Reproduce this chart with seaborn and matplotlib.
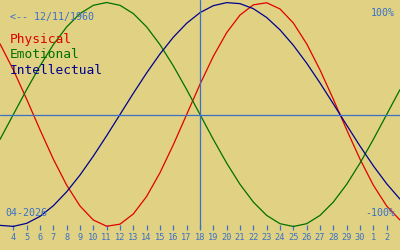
import matplotlib
matplotlib.use("Agg")
import matplotlib.pyplot as plt
import seaborn as sns
import pandas as pd

# Days shown: April 3 .. May 3, 2026 (day numbers continue past 30 for May)
days = list(range(3, 34))
physical = [0.6311, 0.3984, 0.1362, -0.1362, -0.3984, -0.6311, -0.8170, -0.9423, -0.9977, -0.9791,
            -0.8879, -0.7308, -0.5196, -0.2698, 0.0, 0.2698, 0.5196, 0.7308, 0.8879, 0.9791,
            0.9977, 0.9423, 0.8170, 0.6311, 0.3984, 0.1362, -0.1362, -0.3984, -0.6311, -0.8170, -0.9423]
emotional = [-0.2225, 0.0, 0.2225, 0.4339, 0.6235, 0.7818, 0.9010, 0.9749, 1.0, 0.9749,
             0.9010, 0.7818, 0.6235, 0.4339, 0.2225, 0.0, -0.2225, -0.4339, -0.6235, -0.7818,
             -0.9010, -0.9749, -1.0, -0.9749, -0.9010, -0.7818, -0.6235, -0.4339, -0.2225, 0.0, 0.2225]
intellectual = [-0.9898, -0.9989, -0.9718, -0.9096, -0.8146, -0.6901, -0.5406, -0.3717, -0.1893, 0.0,
                0.1893, 0.3717, 0.5406, 0.6901, 0.8146, 0.9096, 0.9718, 0.9989, 0.9898, 0.9450,
                0.8660, 0.7557, 0.6182, 0.4582, 0.2817, 0.0951, -0.0951, -0.2817, -0.4582, -0.6182, -0.7557]

tick_pos = list(range(4, 33))
tick_labels = [str(d) for d in range(4, 31)] + ["1", "2"]
today = 18
series_names = ["Physical", "Emotional", "Intellectual"]
series_colors = ["#e00000", "#007000", "#000090"]
birth_text = "<-- 12/11/1960"
month_text = "04-2026"

bg = "#e0d282"
axis_blue = "#3a70c8"

sns.set_style("white")
plt.rcParams["font.family"] = ["DejaVu Sans Mono"]

fig = plt.figure(figsize=(4, 2.5), dpi=100, facecolor=bg)
ax = fig.add_axes([0, 0, 1, 1], facecolor=bg)

df = pd.DataFrame({"day": days, "Physical": physical, "Emotional": emotional, "Intellectual": intellectual})
for name, col in zip(series_names, series_colors):
    sns.lineplot(data=df, x="day", y=name, ax=ax, color=col, linewidth=0.9)

# pixel mapping: value 0 at y=114.5 px, amplitude 112 px
ax.set_xlim(3, 33)
ax.set_ylim((114.5 - 250) / 112, 114.5 / 112)

ax.axhline(0, color=axis_blue, linewidth=0.9)
ax.axvline(today, ymin=1 - 228 / 250, ymax=1, color=axis_blue, linewidth=0.9)

for s in ["top", "right", "left"]:
    ax.spines[s].set_visible(False)
ax.spines["bottom"].set_position(("data", (114.5 - 230) / 112))
ax.spines["bottom"].set_color("none")
ax.set_xticks(tick_pos)
ax.set_xticklabels(tick_labels)
ax.tick_params(axis="x", bottom=True, direction="in", length=3.8, width=0.9, color=axis_blue,
               labelcolor=axis_blue, labelsize=6.2, pad=2.5)
ax.set_yticks([])
ax.set_xlabel("")
ax.set_ylabel("")

def fy(y):
    return 1 - y / 250

tr = ax.transAxes
ax.text(10 / 400, fy(20), birth_text, transform=tr, color=axis_blue, fontsize=7.2, va="baseline")
ax.text(395 / 400, fy(16), "100%", transform=tr, color=axis_blue, fontsize=7.2, va="baseline", ha="right")
ax.text(395 / 400, fy(216), "-100%", transform=tr, color=axis_blue, fontsize=7.2, va="baseline", ha="right")
ax.text(5 / 400, fy(216), month_text, transform=tr, color=axis_blue, fontsize=7.2, va="baseline")
for i, (name, col) in enumerate(zip(series_names, series_colors)):
    ax.text(10 / 400, fy(43 + 15.5 * i), name, transform=tr, color=col, fontsize=9.3, va="baseline")

fig.savefig("out.png", dpi=100, facecolor=bg)
